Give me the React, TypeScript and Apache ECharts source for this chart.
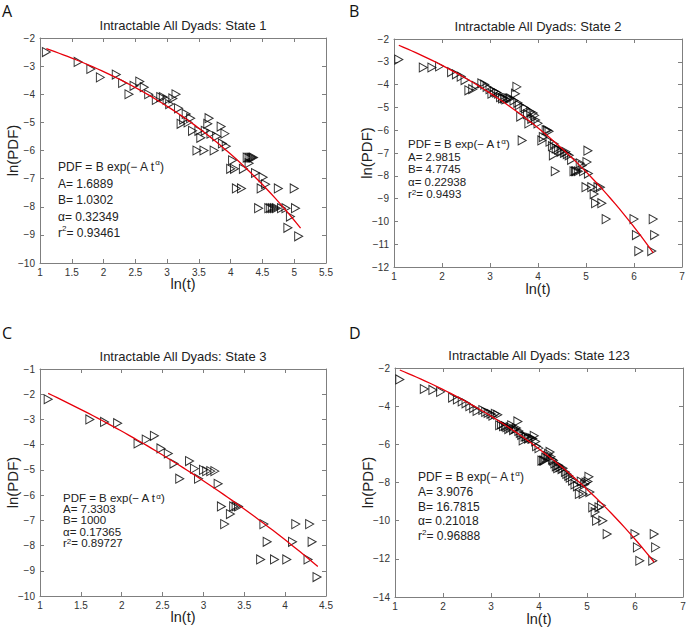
import React, { useEffect, useRef } from "react";
import * as echarts from "echarts";

// Panel A – State 1 : [ln(t), ln(PDF)]
const dataA: number[][] = [
  [1.1, -2.5], [1.6, -2.85], [1.8, -3.1], [1.95, -3.4], [2.2, -3.3], [2.3, -3.6], [2.4, -4.0],
  [2.48, -3.7], [2.57, -3.55], [2.64, -3.75], [2.71, -4.0], [2.83, -4.2], [2.9, -4.1], [2.94, -4.1],
  [3.0, -4.2], [3.04, -4.35], [3.09, -4.15], [3.14, -4.0], [3.18, -4.5], [3.22, -5.05], [3.26, -4.9],
  [3.3, -4.7], [3.33, -5.0], [3.37, -4.85], [3.4, -5.3], [3.47, -6.0], [3.5, -5.3], [3.53, -5.55],
  [3.58, -6.0], [3.6, -5.3], [3.64, -5.05], [3.66, -4.85], [3.69, -5.4], [3.74, -6.0], [3.78, -5.5],
  [3.85, -5.15], [3.87, -5.75], [3.91, -5.4], [3.93, -5.85], [4.03, -6.35], [4.0, -6.65], [4.06, -6.65],
  [4.09, -7.35], [4.17, -7.35], [4.2, -6.65], [4.26, -6.25], [4.29, -6.25], [4.32, -6.25], [4.34, -6.25],
  [4.36, -6.25], [4.29, -6.45], [4.39, -6.8], [4.44, -8.05], [4.48, -7.35], [4.51, -6.95], [4.55, -7.2],
  [4.6, -8.05], [4.63, -8.05], [4.66, -8.05], [4.69, -8.05], [4.72, -8.05], [4.75, -7.35], [4.8, -8.05],
  [4.87, -8.05], [4.9, -8.75], [4.94, -8.35], [5.0, -7.35], [5.02, -8.05], [5.07, -9.05],
];

// Panel B – State 2
const dataB: number[][] = [
  [1.1, -2.9], [1.61, -3.25], [1.79, -3.25], [1.95, -3.2], [2.2, -3.45], [2.3, -3.55], [2.4, -3.65],
  [2.48, -3.8], [2.56, -4.25], [2.64, -4.2], [2.71, -4.05], [2.83, -3.95], [2.89, -4.0], [2.94, -4.1],
  [3.0, -4.2], [3.04, -4.4], [3.09, -4.3], [3.14, -4.35], [3.18, -4.4], [3.22, -4.55], [3.26, -4.6],
  [3.3, -4.6], [3.33, -4.65], [3.37, -4.6], [3.4, -4.6], [3.43, -4.6], [3.5, -4.7], [3.53, -4.4],
  [3.56, -4.1], [3.58, -4.8], [3.61, -4.9], [3.64, -5.4], [3.67, -6.45], [3.71, -5.0], [3.74, -5.05],
  [3.78, -5.3], [3.81, -5.7], [3.85, -5.2], [3.87, -5.5], [3.9, -5.25], [3.93, -5.35], [3.95, -5.55],
  [4.0, -5.7], [4.08, -6.45], [4.11, -6.3], [4.17, -6.0], [4.2, -6.0], [4.23, -6.05], [4.25, -6.5],
  [4.3, -6.7], [4.32, -7.1], [4.34, -6.6], [4.36, -7.8], [4.38, -6.8], [4.43, -6.85], [4.48, -6.95],
  [4.5, -6.9], [4.55, -7.0], [4.58, -6.95], [4.61, -7.05], [4.65, -7.1], [4.7, -7.3], [4.75, -7.8],
  [4.78, -7.8], [4.8, -7.8], [4.84, -7.8], [4.88, -7.45], [4.92, -7.55], [4.95, -7.8], [5.0, -8.5],
  [5.04, -6.9], [5.02, -7.4], [5.05, -7.9], [5.12, -8.5], [5.17, -8.8], [5.2, -9.2], [5.25, -8.5],
  [5.3, -8.5], [5.33, -9.2], [5.42, -9.9], [6.0, -9.9], [6.05, -10.6], [6.1, -11.3], [6.37, -11.3],
  [6.4, -9.9], [6.43, -10.6],
];

// Panel C – State 3
const dataC: number[][] = [
  [1.1, -2.2], [1.61, -3.0], [1.79, -3.1], [1.95, -3.15], [2.2, -3.95], [2.3, -3.8], [2.4, -3.65],
  [2.48, -4.15], [2.57, -4.35], [2.64, -4.75], [2.71, -5.35], [2.83, -4.65], [2.89, -4.95], [2.94, -5.35],
  [3.0, -5.0], [3.04, -5.05], [3.09, -5.05], [3.14, -5.05], [3.18, -5.55], [3.22, -6.45], [3.26, -7.15],
  [3.33, -6.75], [3.37, -6.45], [3.4, -6.45], [3.43, -6.45], [3.7, -8.55], [3.74, -7.15], [3.78, -7.85],
  [3.87, -8.55], [4.02, -8.55], [4.09, -7.85], [4.13, -7.15], [4.28, -8.55], [4.3, -7.15], [4.33, -7.85],
  [4.39, -9.25],
];

// Panel D – State 123
const dataD: number[][] = [
  [1.1, -2.6], [1.61, -3.1], [1.79, -3.15], [1.95, -3.25], [2.2, -3.55], [2.3, -3.65], [2.4, -3.75],
  [2.48, -3.85], [2.56, -4.0], [2.64, -4.1], [2.71, -4.25], [2.83, -4.2], [2.89, -4.3], [2.94, -4.35],
  [3.0, -4.4], [3.04, -4.5], [3.09, -4.4], [3.14, -4.45], [3.18, -5.0], [3.22, -4.95], [3.26, -5.05],
  [3.3, -5.05], [3.33, -5.1], [3.37, -5.2], [3.4, -5.1], [3.43, -5.0], [3.47, -5.25], [3.5, -5.2],
  [3.53, -5.15], [3.56, -4.8], [3.58, -5.3], [3.61, -5.4], [3.64, -5.5], [3.67, -5.8], [3.71, -5.6],
  [3.74, -5.6], [3.78, -5.7], [3.81, -5.65], [3.85, -5.7], [3.87, -5.7], [3.9, -5.55], [3.93, -5.85],
  [3.95, -6.1], [4.0, -6.2], [4.06, -6.85], [4.09, -6.85], [4.11, -6.85], [4.14, -6.7], [4.17, -6.6],
  [4.2, -6.5], [4.23, -6.4], [4.25, -6.65], [4.28, -6.8], [4.3, -6.85], [4.33, -7.0], [4.36, -7.15],
  [4.39, -7.25], [4.41, -7.1], [4.44, -7.2], [4.48, -7.3], [4.5, -7.25], [4.55, -7.45], [4.58, -7.55],
  [4.62, -7.65], [4.65, -7.75], [4.7, -7.9], [4.75, -8.1], [4.8, -8.2], [4.84, -8.6], [4.88, -7.95],
  [4.92, -8.6], [4.95, -8.1], [4.98, -8.0], [5.02, -7.95], [5.04, -7.7], [5.06, -8.5], [5.12, -9.3],
  [5.17, -9.55], [5.2, -10.0], [5.25, -9.3], [5.3, -9.2], [5.33, -10.0], [5.42, -10.7], [6.0, -10.7],
  [6.05, -11.4], [6.1, -12.1], [6.37, -12.1], [6.4, -10.7], [6.43, -11.4],
];

// Fit parameters printed in each panel: PDF = B exp(-A t^alpha)
const fitA = { A: 1.6889, B: 1.0302, alpha: 0.32349, from: 1.1, to: 5.1 };
const fitB = { A: 2.9815, B: 4.7745, alpha: 0.22938, from: 1.1, to: 6.4 };
const fitC = { A: 7.3303, B: 1000, alpha: 0.17365, from: 1.1, to: 4.4 };
const fitD = { A: 3.9076, B: 16.7815, alpha: 0.21018, from: 1.1, to: 6.4 };

const fitTextA = ["1.6889", "1.0302", "0.32349", "0.93461"];
const fitTextB = ["2.9815", "4.7745", "0.22938", "0.9493"];
const fitTextC = ["7.3303", "1000", "0.17365", "0.89727"];
const fitTextD = ["3.9076", "16.7815", "0.21018", "0.96888"];

const titles = [
  "Intractable All Dyads: State 1",
  "Intractable All Dyads: State 2",
  "Intractable All Dyads: State 3",
  "Intractable All Dyads: State 123",
];
const letters = ["A", "B", "C", "D"];

const FONT = "'Liberation Sans', Arial, sans-serif";

function fitCurve(f: { A: number; B: number; alpha: number; from: number; to: number }) {
  const pts: number[][] = [];
  const n = 60;
  for (let i = 0; i <= n; i++) {
    const x = f.from + ((f.to - f.from) * i) / n;
    pts.push([x, Math.log(f.B) - f.A * Math.exp(f.alpha * x)]);
  }
  return pts;
}

const minusFmt = (v: number) => String(v).replace("-", "\u2212");

export default function App() {
  const ref = useRef<HTMLDivElement>(null);
  useEffect(() => {
    if (!ref.current) return;
    const chart = echarts.init(ref.current, undefined, { renderer: "svg" });

    const panels = [
      { grid: { left: 40, top: 38, width: 286, height: 225 }, x: [1, 5.5, 0.5], y: [-10, -2, 1], data: dataA, fit: fitA, txt: fitTextA, tx: 58, ty: 167, lh: 16.5, fs: 12 },
      { grid: { left: 394, top: 39, width: 288, height: 228 }, x: [1, 7, 1], y: [-12, -2, 1], data: dataB, fit: fitB, txt: fitTextB, tx: 408, ty: 144, lh: 12.6, fs: 11.5 },
      { grid: { left: 40, top: 369, width: 286, height: 227 }, x: [1, 4.5, 0.5], y: [-10, -1, 1], data: dataC, fit: fitC, txt: fitTextC, tx: 63, ty: 498, lh: 11.2, fs: 11.5 },
      { grid: { left: 395, top: 368, width: 288, height: 229 }, x: [1, 7, 1], y: [-14, -2, 2], data: dataD, fit: fitD, txt: fitTextD, tx: 418, ty: 477, lh: 14.8, fs: 12 },
    ];

    const grids: any[] = [];
    const xAxes: any[] = [];
    const yAxes: any[] = [];
    const series: any[] = [];
    const graphics: any[] = [];
    const axisLine = { show: true, lineStyle: { color: "#7f7f7f", width: 1 } };
    const tick = { show: true, inside: true, length: 4, lineStyle: { color: "#7f7f7f" } };
    const label = { fontSize: 10, color: "#333", fontFamily: FONT, formatter: minusFmt };

    panels.forEach((p, i) => {
      grids.push({ ...p.grid, containLabel: false });
      const xb = xAxes.length;
      xAxes.push({
        type: "value", gridIndex: i, min: p.x[0], max: p.x[1], interval: p.x[2], position: "bottom",
        axisLine, axisTick: tick, splitLine: { show: false }, axisLabel: { ...label, margin: 4 },
      });
      xAxes.push({
        type: "value", gridIndex: i, min: p.x[0], max: p.x[1], interval: p.x[2], position: "top",
        axisLine, axisTick: tick, splitLine: { show: false }, axisLabel: { show: false },
      });
      const yb = yAxes.length;
      yAxes.push({
        type: "value", gridIndex: i, min: p.y[0], max: p.y[1], interval: p.y[2], position: "left",
        axisLine, axisTick: tick, splitLine: { show: false }, axisLabel: { ...label, margin: 5 },
      });
      yAxes.push({
        type: "value", gridIndex: i, min: p.y[0], max: p.y[1], interval: p.y[2], position: "right",
        axisLine, axisTick: tick, splitLine: { show: false }, axisLabel: { show: false },
      });
      series.push({
        type: "scatter", xAxisIndex: xb, yAxisIndex: yb, data: p.data,
        symbol: "triangle", symbolRotate: -90, symbolSize: [9, 8],
        itemStyle: { color: "rgba(0,0,0,0)", borderColor: "#000", borderWidth: 1 },
        silent: true, z: 2,
      });
      series.push({
        type: "line", xAxisIndex: xb, yAxisIndex: yb, data: fitCurve(p.fit),
        showSymbol: false, smooth: false, lineStyle: { color: "#e8000b", width: 1.3 },
        silent: true, z: 3,
      });

      const cx = p.grid.left + p.grid.width / 2;
      const top = p.grid.top;
      const bottom = p.grid.top + p.grid.height;
      graphics.push({
        type: "text", x: cx, y: top - 13,
        style: { text: titles[i], font: `13px ${FONT}`, fill: "#222", textAlign: "center", textVerticalAlign: "middle" },
      });
      graphics.push({
        type: "text", x: cx, y: bottom + (i % 2 === 0 ? 21 : 22),
        style: { text: "ln(t)", font: `14.5px ${FONT}`, fill: "#222", textAlign: "center", textVerticalAlign: "middle" },
      });
      graphics.push({
        type: "text", x: p.grid.left - 28, y: top + p.grid.height / 2, rotation: Math.PI / 2,
        style: { text: "ln(PDF)", font: `15px ${FONT}`, fill: "#222", textAlign: "center", textVerticalAlign: "middle" },
      });
      graphics.push({
        type: "text", x: i % 2 === 0 ? 2 : 349, y: i < 2 ? 11 : 333,
        style: { text: letters[i], font: `16px 'Open Sans', sans-serif`, fill: "#111", textAlign: "left", textVerticalAlign: "middle" },
      });
      const lines = [
        "PDF = B exp(\u2212 A t{sup|\u03b1})",
        `A= ${p.txt[0]}`,
        `B= ${p.txt[1]}`,
        `\u03b1= ${p.txt[2]}`,
        `r{sup|2}= ${p.txt[3]}`,
      ];
      lines.forEach((t, k) => {
        graphics.push({
          type: "text", x: p.tx, y: p.ty + k * p.lh,
          style: {
            text: t, font: `${p.fs}px ${FONT}`, fill: "#222", textAlign: "left", textVerticalAlign: "middle",
            lineHeight: p.lh,
            rich: { sup: { fontSize: 8, fontFamily: FONT, fill: "#222", verticalAlign: "top", lineHeight: p.lh, padding: [0, 0, 4, 0] } },
          },
        });
      });
    });

    chart.setOption({
      animation: false,
      backgroundColor: "#fff",
      grid: grids,
      xAxis: xAxes,
      yAxis: yAxes,
      series,
      graphic: graphics,
    });
    return () => chart.dispose();
  }, []);

  return <div ref={ref} style={{ position: "absolute", left: 0, top: 0, width: 689, height: 627 }} />;
}
